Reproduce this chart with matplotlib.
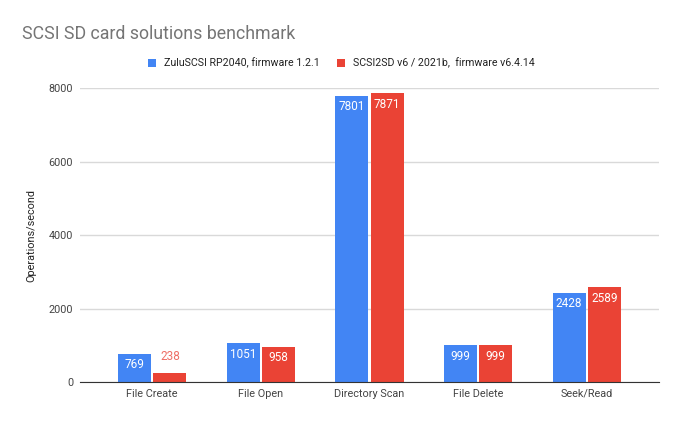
import matplotlib
matplotlib.use("Agg")
import matplotlib.pyplot as plt
import numpy as np

plt.rcParams['font.family'] = ['Roboto', 'DejaVu Sans']

categories = ["File Create", "File Open", "Directory Scan", "File Delete", "Seek/Read"]
zulu = [769, 1051, 7801, 999, 2428]
scsi2sd = [238, 958, 7871, 999, 2589]
series_names = ["ZuluSCSI RP2040, firmware 1.2.1", "SCSI2SD v6 / 2021b,  firmware v6.4.14"]
yticks = [0, 2000, 4000, 6000, 8000]

blue = "#4285F4"
red = "#EA4335"

fig = plt.figure(figsize=(6.8, 4.21), dpi=100)
ax = fig.add_axes([80/680, 1-382/421, 579/680, (382-88.3)/421])

x = np.arange(len(categories))
w = 0.305
gap = 0.01
b1 = ax.bar(x - w/2 - gap, zulu, w, color=blue, label=series_names[0], zorder=3)
b2 = ax.bar(x + w/2 + gap, scsi2sd, w, color=red, label=series_names[1], zorder=3)

for bars, vals in [(b1, zulu), (b2, scsi2sd)]:
    for rect, v in zip(bars, vals):
        cx = rect.get_x() + rect.get_width()/2
        if v < 500:
            ax.annotate(str(v), (cx, v), xytext=(0, 12), textcoords="offset points",
                        ha="center", va="center", color="#EE6E65", fontsize=8.5, zorder=4)
        else:
            ax.annotate(str(v), (cx, v), xytext=(0, -8), textcoords="offset points",
                        ha="center", va="center", color="white", fontsize=8.5, zorder=4)

ax.set_xlim(-0.665, 4.665)
ax.set_ylim(0, 8000)
ax.set_yticks(yticks)
ax.set_yticklabels([str(t) for t in yticks])
ax.set_xticks(x)
ax.set_xticklabels(categories)
ax.tick_params(length=0, labelsize=7.8, colors="#444444")
ax.tick_params(axis="x", pad=5)
ax.tick_params(axis="y", pad=5)
ax.yaxis.grid(True, color="#D9D9D9", linewidth=1, zorder=0)
for s in ["top", "right", "left"]:
    ax.spines[s].set_visible(False)
ax.spines["bottom"].set_color("#333333")
ax.spines["bottom"].set_zorder(5)
ax.set_ylabel("Operations/second", fontsize=7.8, color="#222222", labelpad=9)

fig.text(22/680, 1-39/421, "SCSI SD card solutions benchmark", fontsize=12.8,
         color="#757575", ha="left", va="baseline")

fig.legend(loc="center", bbox_to_anchor=(341/680, 1-63/421), ncol=2, frameon=False,
           fontsize=7.7, handlelength=0.8, handleheight=0.8, handletextpad=0.7,
           columnspacing=1.6, labelcolor="#222222")

fig.savefig("out.png", dpi=100)
